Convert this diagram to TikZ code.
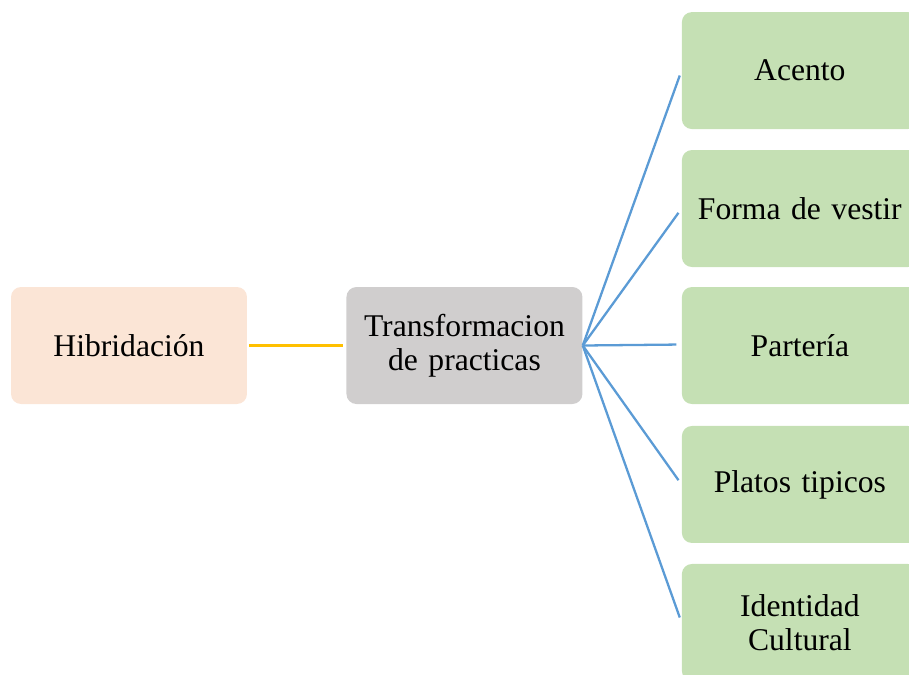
\documentclass[tikz,border=0pt]{standalone}
\usepackage{fontspec}
\setmainfont{Liberation Serif}
\definecolor{hibfill}{HTML}{FBE5D6}
\definecolor{grisfill}{HTML}{D0CECE}
\definecolor{verdefill}{HTML}{C5E0B4}
\definecolor{amarillo}{HTML}{FFC000}
\definecolor{azul}{HTML}{5B9BD5}
\begin{document}
\begin{tikzpicture}[node distance=6.71cm,x=0.02cm,y=-0.02cm]
\tikzstyle{box}=[rectangle,rounded corners=0.2cm,minimum width=4.72cm,minimum height=2.34cm,
  text width=4.3cm,align=center,font=\fontsize{18}{19.5}\selectfont]
\tikzstyle{rama}=[draw=azul,line width=1.3pt,shorten >=3pt]
\useasboundingbox (0,0) rectangle (909,674);
\clip (0,0) rectangle (909,674);
\node[box,fill=hibfill] (hib) at (129,345.5) {Hibridación};
\node[box,fill=grisfill] (trans) [right of=hib] {Transformacion\\de practicas};
\node[box,fill=verdefill] (parteria) [right of=trans] {Partería};
\node[box,fill=verdefill] (forma) [above of=parteria,node distance=2.74cm] {Forma de vestir};
\node[box,fill=verdefill] (acento) [above of=forma,node distance=2.76cm] {Acento};
\node[box,fill=verdefill] (platos) [below of=parteria,node distance=2.78cm] {Platos tipicos};
\node[box,fill=verdefill] (identidad) [below of=platos,node distance=2.76cm] {Identidad\\Cultural};
\draw[draw=amarillo,line width=1.5pt,shorten <=1pt,shorten >=2pt] (hib.east) -- (trans.west);
\foreach \n in {acento,forma,platos,identidad}
  \draw[rama] (trans.east) -- (\n.west);
\draw[rama] (trans.east) -- ([yshift=0.02cm]parteria.west);
\end{tikzpicture}
\end{document}
